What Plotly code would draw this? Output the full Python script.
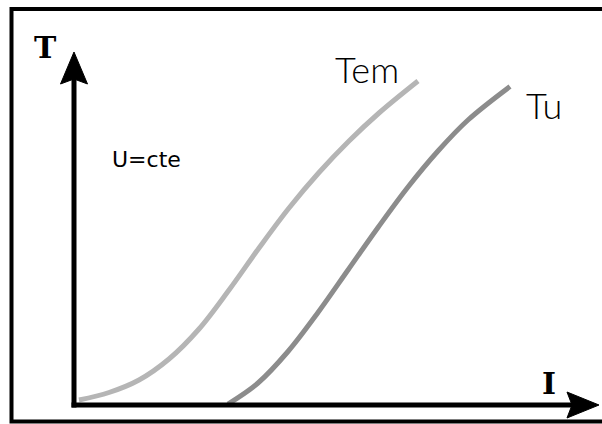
import plotly.graph_objects as go

W, H = 602, 424

# Data (I in arbitrary units, T in arbitrary units)
tem_I = [0.10, 0.70, 1.30, 1.90, 2.50, 3.10, 3.70, 4.30, 4.90, 5.50, 6.10, 6.88]
tem_T = [0.10, 0.25, 0.50, 0.92, 1.52, 2.30, 3.14, 3.94, 4.65, 5.28, 5.84, 6.48]
tu_I = [3.08, 3.68, 4.28, 4.88, 5.48, 6.08, 6.68, 7.28, 7.88, 8.72]
tu_T = [0.02, 0.44, 1.07, 1.85, 2.70, 3.55, 4.36, 5.08, 5.70, 6.37]

OX, OY, S = 74, 405, 50.0  # origin in pixels, pixels per unit


def px(x):
    return x / W


def py(y):
    return 1 - y / H


fig = go.Figure()
fig.add_trace(go.Scatter(x=tem_I, y=tem_T, mode="lines", name="Tem",
                         line=dict(color="#b5b5b5", width=5, shape="spline", smoothing=1.0),
                         hoverinfo="skip"))
fig.add_trace(go.Scatter(x=tu_I, y=tu_T, mode="lines", name="Tu",
                         line=dict(color="#8c8c8c", width=5, shape="spline", smoothing=1.0),
                         hoverinfo="skip"))

shapes = []
# outer frame
shapes.append(dict(type="rect", xref="paper", yref="paper",
                   x0=px(11.5), x1=px(640), y0=py(9), y1=py(421.5),
                   line=dict(color="black", width=4), fillcolor="rgba(0,0,0,0)", layer="above"))
# y axis shaft
shapes.append(dict(type="line", xref="paper", yref="paper",
                   x0=px(74), x1=px(74), y0=py(407.5), y1=py(78),
                   line=dict(color="black", width=5)))
# x axis shaft
shapes.append(dict(type="line", xref="paper", yref="paper",
                   x0=px(71.5), x1=px(575), y0=py(405), y1=py(405),
                   line=dict(color="black", width=5)))


def path(points):
    s = "M " + " L ".join(f"{px(x):.5f},{py(y):.5f}" for x, y in points) + " Z"
    return s


shapes.append(dict(type="path", xref="paper", yref="paper",
                   path=path([(74, 52), (87.5, 84), (74, 79), (60.5, 84)]),
                   fillcolor="black", line=dict(color="black", width=1)))
shapes.append(dict(type="path", xref="paper", yref="paper",
                   path=path([(599, 405), (567, 418), (572, 405), (567, 392)]),
                   fillcolor="black", line=dict(color="black", width=1)))

serif = "DejaVu Serif, Liberation Serif, serif"
sans = "Lato, DejaVu Sans, sans-serif"
annotations = [
    dict(text="<b>T</b>", x=px(45), y=py(48), font=dict(family=serif, size=30, color="black")),
    dict(text="<b>I</b>", x=px(549), y=py(383), font=dict(family=serif, size=30, color="black")),
    dict(text="Tem", x=px(367), y=py(69), font=dict(family=sans, size=36, color="black", weight=300)),
    dict(text="Tu", x=px(544), y=py(105), font=dict(family=sans, size=36, color="black", weight=300)),
    dict(text="U=cte", x=px(146), y=py(159), font=dict(family="DejaVu Sans, sans-serif", size=22, color="black")),
]
for a in annotations:
    a.update(xref="paper", yref="paper", showarrow=False, xanchor="center", yanchor="middle")

fig.update_layout(
    width=W, height=H,
    margin=dict(l=0, r=0, t=0, b=0),
    paper_bgcolor="white", plot_bgcolor="white",
    showlegend=False,
    xaxis=dict(range=[-OX / S, (W - OX) / S], visible=False, fixedrange=True),
    yaxis=dict(range=[(OY - H) / S, OY / S], visible=False, fixedrange=True),
    shapes=shapes,
    annotations=annotations,
)

fig.write_html("out.html", config={"displayModeBar": False},
               post_script="document.body.style.margin='0';document.body.style.overflow='hidden';")
